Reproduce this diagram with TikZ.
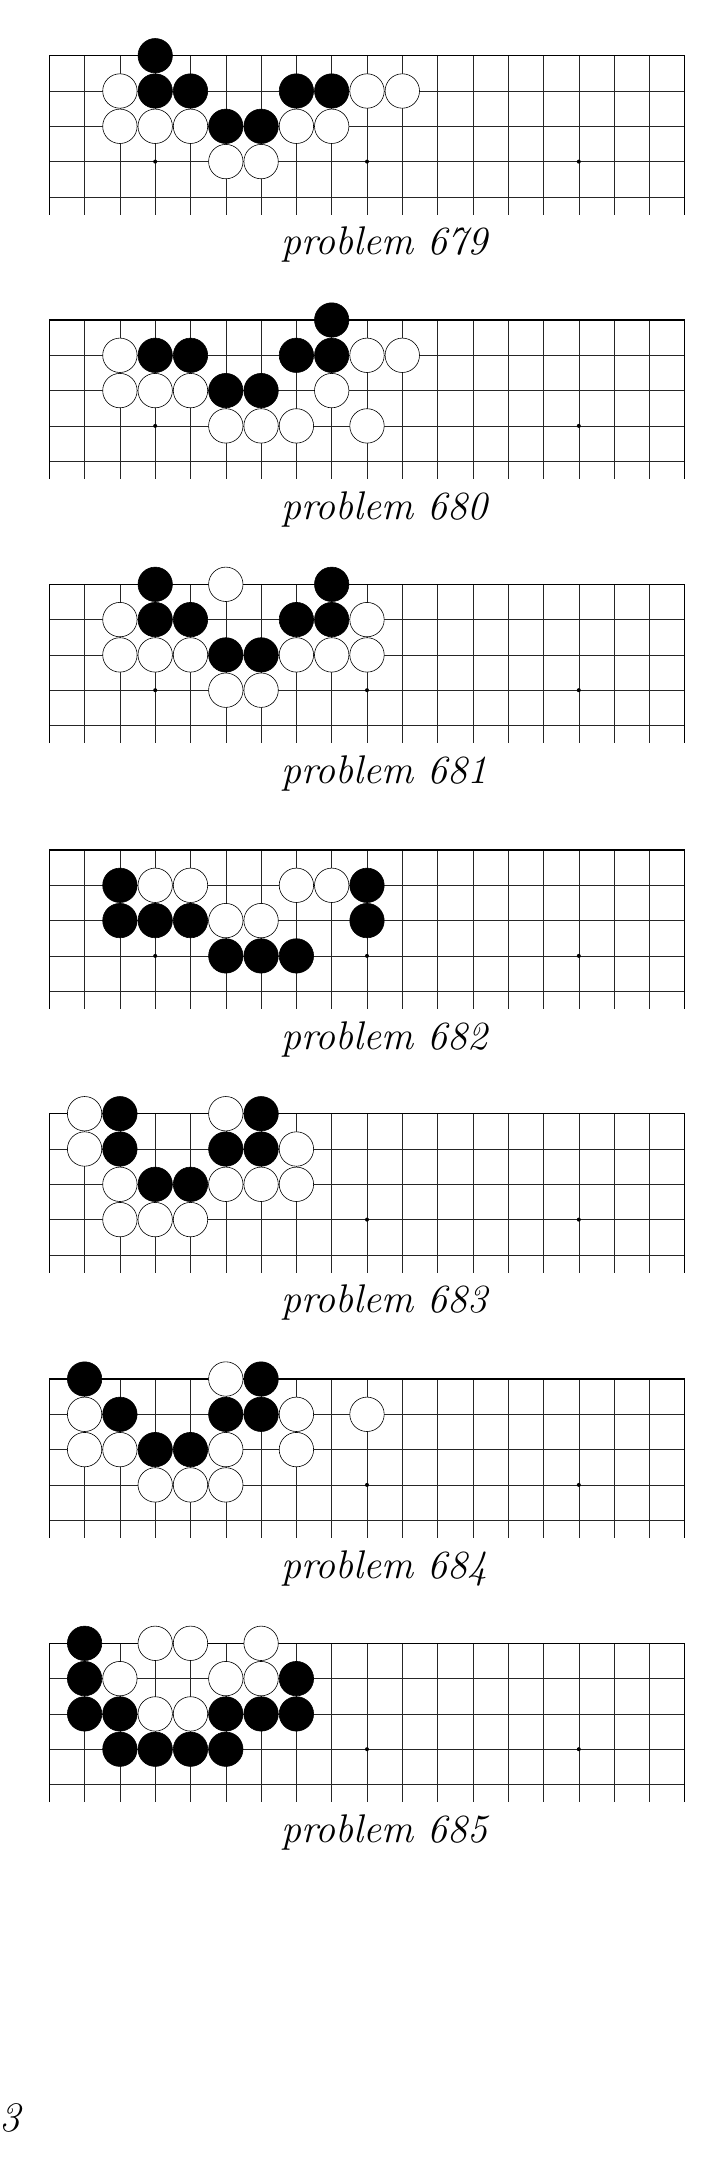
\documentclass[tikz,border=0pt]{standalone}
\begin{document}
\tikzset{
  x=1pt, y=-1pt,
  gridline/.style={line width=0.6pt, black!85},
  edgeline/.style={line width=1.2pt, black},
  stonebase/.style={circle, inner sep=0pt, minimum size=34.4pt, line width=0.6pt, draw=black},
  bstone/.style={stonebase, fill=black},
  wstone/.style={stonebase, fill=white},
  caption/.style={font=\fontsize{40}{42}\selectfont\itshape, inner sep=0pt, anchor=base},
}
\newcommand\goboard[4]{%
  \begin{scope}[shift={(49.3,#2)}]
    \foreach \c in {1,...,17} \draw[gridline] (35.3*\c,0) -- (35.3*\c,158.85);
    \foreach \r in {1,...,4} \draw[gridline] (0,35.3*\r) -- (635.4,35.3*\r);
    \draw[edgeline] (0,158.85) -- (0,0) -- (635.4,0) -- (635.4,158.85);
    \foreach \c in {3,9,15} \fill (35.3*\c,105.9) circle (2);
    \foreach \c/\r [count=\k] in {#3} \node[bstone] (p#1b\k) at (35.3*\c,35.3*\r) {};
    \foreach \c/\r [count=\k] in {#4} \node[wstone] (p#1w\k) at (35.3*\c,35.3*\r) {};
    \node[caption] (p#1cap) at (335,199) {problem #1};
  \end{scope}}
\begin{tikzpicture}
\useasboundingbox (0,0) rectangle (725,2181);
\goboard{679}{55.7}{3/0,3/1,4/1,7/1,8/1,5/2,6/2}{2/1,9/1,10/1,2/2,3/2,4/2,7/2,8/2,5/3,6/3}
\goboard{680}{320}{8/0,3/1,4/1,7/1,8/1,5/2,6/2}{2/1,9/1,10/1,2/2,3/2,4/2,8/2,5/3,6/3,7/3,9/3}
\goboard{681}{584.3}{3/0,8/0,3/1,4/1,7/1,8/1,5/2,6/2}{5/0,2/1,9/1,2/2,3/2,4/2,7/2,8/2,9/2,5/3,6/3}
\goboard{682}{850}{2/1,9/1,2/2,3/2,4/2,9/2,5/3,6/3,7/3}{3/1,4/1,7/1,8/1,5/2,6/2}
\goboard{683}{1113.7}{2/0,6/0,2/1,5/1,6/1,3/2,4/2}{1/0,5/0,1/1,7/1,2/2,5/2,6/2,7/2,2/3,3/3,4/3}
\goboard{684}{1379}{1/0,6/0,2/1,5/1,6/1,3/2,4/2}{5/0,1/1,7/1,9/1,1/2,2/2,5/2,7/2,3/3,4/3,5/3}
\goboard{685}{1643.3}{1/0,1/1,7/1,1/2,2/2,5/2,6/2,7/2,2/3,3/3,4/3,5/3}{3/0,4/0,6/0,2/1,5/1,6/1,3/2,4/2}
\node[font=\fontsize{42}{44}\selectfont\itshape, inner sep=0pt, anchor=base west] (pagenum) at (-1,2131) {3};
\end{tikzpicture}
\end{document}
